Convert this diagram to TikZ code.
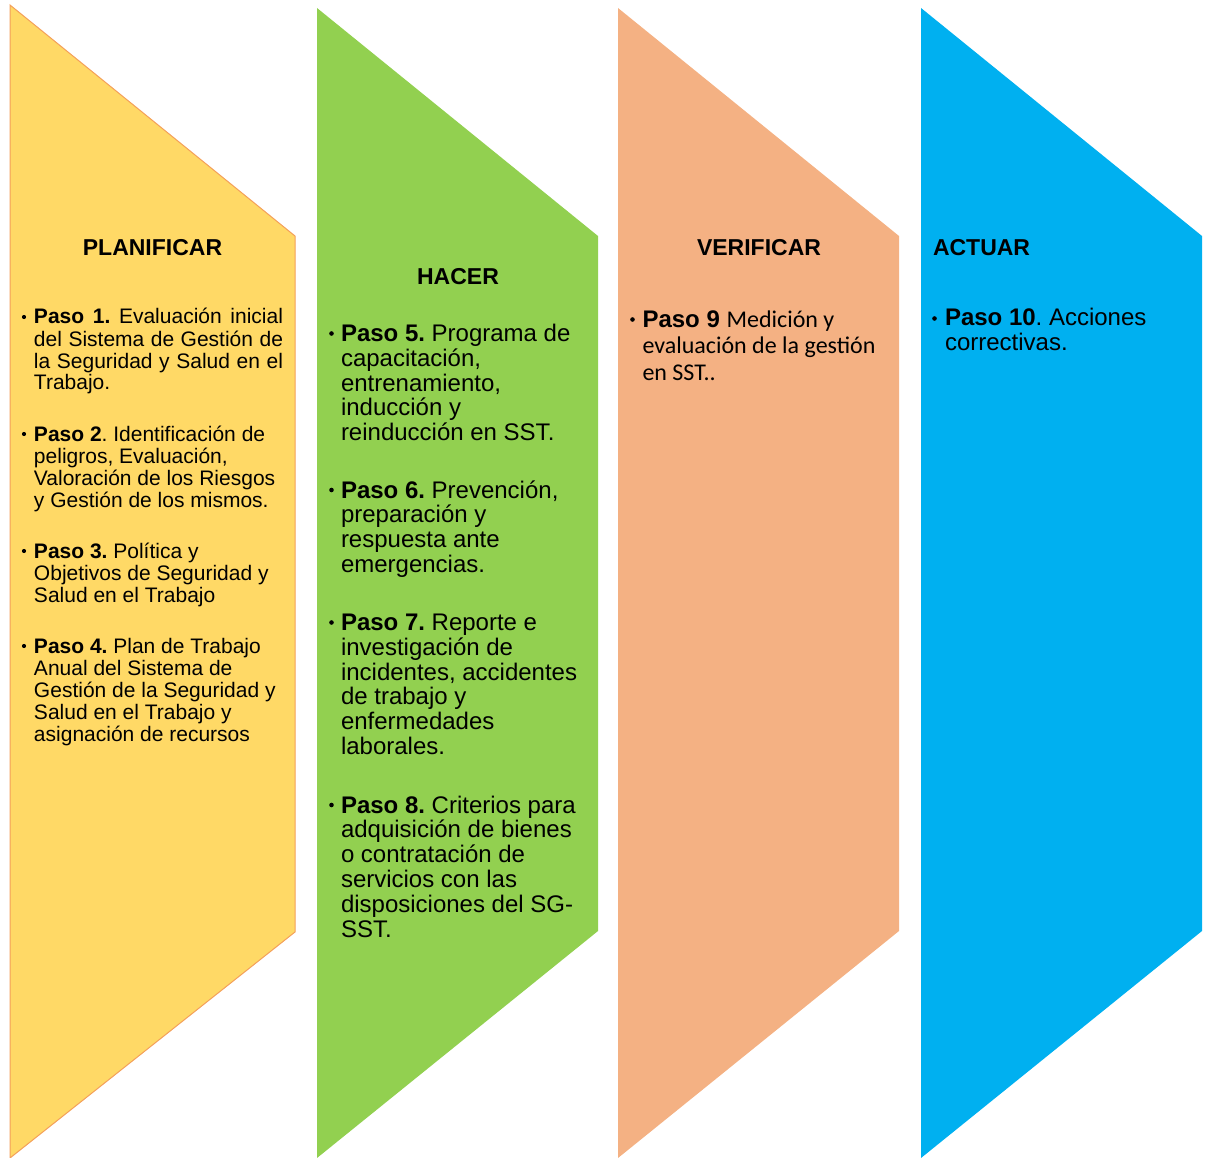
\documentclass[tikz,border=0pt]{standalone}
\usepackage{fontspec}
\setmainfont{Liberation Sans}
\newfontfamily\calfont{Carlito}
\definecolor{planfill}{HTML}{FFD966}
\definecolor{planline}{HTML}{F4A05A}
\definecolor{hacerfill}{HTML}{92D050}
\definecolor{verifill}{HTML}{F4B183}
\definecolor{actfill}{HTML}{00B0F0}
\newcommand\txtbox[3]{\parbox[t]{#1}{\frenchspacing\raggedright\fontsize{#2}{#3}\selectfont}}
\tikzset{
  item/.style={anchor=base west, inner sep=0pt, outer sep=0pt},
  head/.style={anchor=base, inner sep=0pt, outer sep=0pt, font=\fontsize{23pt}{23pt}\selectfont\bfseries},
  panel/.style={line join=miter},
  dot/.style={fill=black},
}
\begin{document}
\begin{tikzpicture}[x=1pt,y=-1pt]
\useasboundingbox (0,0) rectangle (1205,1158);
% panels
\draw[panel, fill=planfill, draw=planline, line width=1pt] (10,5) -- (295,236) -- (295,932) -- (10,1158) -- cycle;
\fill[panel, hacerfill] (317,8) -- (598,236) -- (598,931) -- (317,1158) -- cycle;
\fill[panel, verifill] (618,8) -- (899,236) -- (899,931) -- (618,1158) -- cycle;
\fill[panel, actfill] (921,8) -- (1202,236) -- (1202,931) -- (921,1158) -- cycle;
% headings
\node[head] (hplan) at (152.5,256) {PLANIFICAR};
\node[head] (hhacer) at (458,285) {HACER};
\node[head] (hveri) at (759,256) {VERIFICAR};
\node[head, anchor=base west] (hact) at (933,256) {ACTUAR};
% planificar
\node[item] (p1) at (34,324) {\fontsize{21pt}{22pt}\selectfont\parbox[t]{249pt}{\frenchspacing\fontsize{21pt}{22pt}\selectfont
\textbf{Paso 1.} Evaluación inicial\linebreak del Sistema de Gestión de\linebreak la Seguridad y Salud en el\linebreak Trabajo.}};
\node[item] (p2) at (34,441) {\fontsize{21pt}{22pt}\selectfont\parbox[t]{249pt}{\frenchspacing\raggedright\fontsize{21pt}{22pt}\selectfont
\textbf{Paso 2}. Identificación de\\ peligros, Evaluación,\\ Valoración de los Riesgos\\ y Gestión de los mismos.}};
\node[item] (p3) at (34,558) {\fontsize{21pt}{22pt}\selectfont\parbox[t]{249pt}{\frenchspacing\raggedright\fontsize{21pt}{22pt}\selectfont
\textbf{Paso 3.} Política y\\ Objetivos de Seguridad y\\ Salud en el Trabajo}};
\node[item] (p4) at (34,653) {\fontsize{21pt}{22pt}\selectfont\parbox[t]{249pt}{\frenchspacing\raggedright\fontsize{21pt}{22pt}\selectfont
\textbf{Paso 4.} Plan de Trabajo\\ Anual del Sistema de\\ Gestión de la Seguridad y\\ Salud en el Trabajo y\\ asignación de recursos}};
% hacer
\node[item] (p5) at (341,341.5) {\fontsize{24pt}{24.8pt}\selectfont\parbox[t]{250pt}{\frenchspacing\raggedright\fontsize{24pt}{24.8pt}\selectfont
\textbf{Paso 5.} Programa de\\ capacitación,\\ entrenamiento,\\ inducción y\\ reinducción en SST.}};
\node[item] (p6) at (341,498) {\fontsize{24pt}{24.8pt}\selectfont\parbox[t]{250pt}{\frenchspacing\raggedright\fontsize{24pt}{24.8pt}\selectfont
\textbf{Paso 6.} Prevención,\\ preparación y\\ respuesta ante\\ emergencias.}};
\node[item] (p7) at (341,630.5) {\fontsize{24pt}{24.8pt}\selectfont\parbox[t]{250pt}{\frenchspacing\raggedright\fontsize{24pt}{24.8pt}\selectfont
\textbf{Paso 7.} Reporte e\\ investigación de\\ incidentes, accidentes\\ de trabajo y\\ enfermedades\\ laborales.}};
\node[item] (p8) at (341,813) {\fontsize{24pt}{24.8pt}\selectfont\parbox[t]{250pt}{\frenchspacing\raggedright\fontsize{24pt}{24.8pt}\selectfont
\textbf{Paso 8.} Criterios para\\ adquisición de bienes\\ o contratación de\\ servicios con las\\ disposiciones del SG-\\ SST.}};
% verificar
\node[item] (p9) at (642.5,327) {\fontsize{24pt}{27pt}\selectfont\parbox[t]{250pt}{\frenchspacing\raggedright\fontsize{24pt}{27pt}\selectfont
\textbf{Paso 9} {\calfont Medición y}\\ {\calfont evaluación de la gestión}\\ {\calfont en SST..}}};
% actuar
\node[item] (p10) at (945,326) {\fontsize{24pt}{25pt}\selectfont\parbox[t]{255pt}{\frenchspacing\raggedright\fontsize{24pt}{25pt}\selectfont
\textbf{Paso 10}. Acciones\\ correctivas.}};
% bullets
\foreach \n/\dx/\dy/\r in {p1/10/7/2.1, p2/10/7/2.1, p3/10/7/2.1, p4/10/7/2.1,
  p5/9.5/8/2.3, p6/9.5/8/2.3, p7/9.5/8/2.3, p8/9.5/8/2.3,
  p9/10/7.5/2.3, p10/10.5/7.5/2.3}
  \fill[dot] ([xshift=-\dx pt, yshift=\dy pt]\n.base west) circle (\r pt);
\end{tikzpicture}
\end{document}
